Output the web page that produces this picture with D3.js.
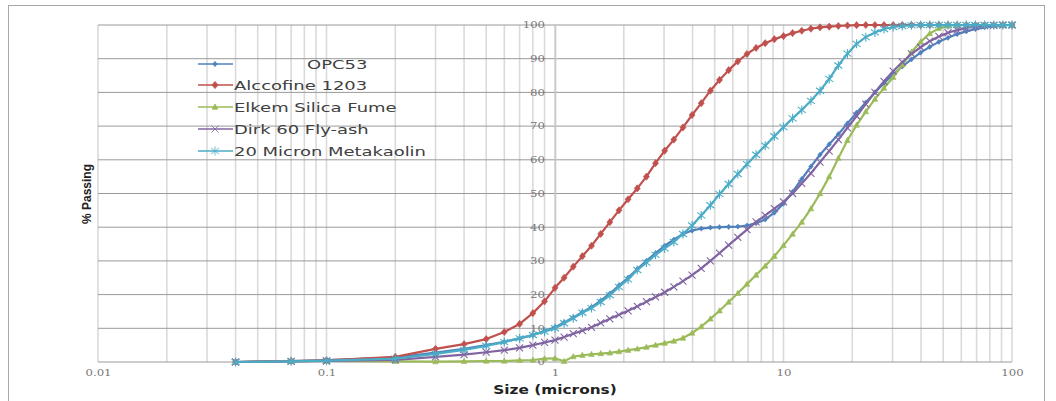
<!DOCTYPE html>
<html><head><meta charset="utf-8">
<script src="https://cdn.jsdelivr.net/npm/d3@7"></script>
<style>body{margin:0;background:#fff}svg{display:block}</style>
</head><body>
<svg id="c" width="1056" height="401"></svg>
<script>
const sizes = [0.04,0.07,0.1,0.2,0.3,0.4,0.5,0.6,0.7,0.8,0.9,
  1,1.096,1.202,1.318,1.445,1.585,1.738,1.905,2.089,2.291,2.512,2.754,3.02,3.311,3.631,3.981,4.365,4.786,5.248,5.754,6.31,6.918,7.586,8.318,9.12,
  10,10.96,12.02,13.18,14.45,15.85,17.38,19.05,20.89,22.91,25.12,27.54,30.2,33.11,36.31,39.81,43.65,47.86,52.48,57.54,63.1,69.18,75.86,83.18,91.2,100];
const seriesNames = ["OPC53","Alccofine 1203","Elkem Silica Fume","Dirk 60 Fly-ash","20 Micron Metakaolin"];
const opc53 = [0,0.3,0.6,1.3,2.8,3.9,5,6,7,8,9.2,
  10.3,11.7,13.2,14.8,16.3,18.2,20.3,22.7,25,27.6,30,32.3,34.5,36.3,38,39,39.6,39.9,40,40.1,40.2,40.5,41.2,42.3,44.3,
  47,50.5,54.3,58,61.5,64.6,67.6,70.8,74,77,80,82.7,85.3,87.7,89.8,91.8,93.5,95,96.2,97.3,98.1,98.8,99.3,99.7,99.9,100];
const alccofine = [0,0.3,0.5,1.5,3.9,5.3,6.8,8.9,11.3,14.5,18,
  22,25,28.3,31.4,34.5,38,41.5,45,48.3,51.5,55,59,62.7,66,69.6,73.3,76.8,80.5,83.7,86.6,89.2,91.4,93.2,94.6,95.8,
  96.7,97.6,98.3,98.9,99.3,99.5,99.7,99.85,99.95,100,100,100,100,100,100,100,100,100,100,100,100,100,100,100,100,100];
const elkem = [0,0.2,0.3,0.2,0.1,0.2,0.3,0.3,0.5,0.6,1.0,
  1.1,0.2,1.6,2.0,2.3,2.5,2.7,3.1,3.5,3.9,4.4,5.0,5.6,6.2,7.1,8.6,10.5,12.8,15.2,17.8,20.4,23.1,25.8,28.5,31.4,
  34.6,38,41.5,45.5,50,55,60.5,65.8,70.3,74.3,78,81.3,84.5,88.2,92,95,97.5,99,99.7,100,100,100,100,100,100,100];
const dirk = [0,0.2,0.3,0.6,1.5,2.2,2.9,3.5,4.2,5,5.8,
  6.5,7.4,8.4,9.3,10.3,11.6,12.8,14,15.2,16.5,17.9,19.3,20.7,22.3,24,25.8,27.8,30,32.3,34.7,37,39.3,41.6,43.5,45.5,
  47.5,50,53,56,59.3,62.6,66,69.5,73,76.5,80,83.3,86.3,89,91.4,93.4,95.2,96.6,97.7,98.5,99.1,99.5,99.8,99.9,100,100];
const metakaolin = [0,0.2,0.4,1.0,2.4,3.6,4.8,5.9,7,8,9,
  10,11.5,13,14.6,16,17.8,19.8,22.3,24.5,27.3,29.5,31.8,33.7,35.6,38,40.5,43.5,46.5,49.8,52.8,55.8,58.7,61.5,64.2,67,
  69.7,72.3,74.8,77.5,80.5,84,88,91.5,94.4,96.4,97.8,98.8,99.4,99.7,99.9,100,100,100,100,100,100,100,100,100,100,100];
const xTicks = [0.01,0.1,1,10,100];
const xTickLabels = ["0.01","0.1","1","10","100"];
const yTicks = [0,10,20,30,40,50,60,70,80,90,100];

const colors = ["#4F81BD","#C0504D","#9BBB59","#8064A2","#4BACC6"];
const markers = ["smalldiamond","diamond","triangle","x","star"];
const allValues = [opc53, alccofine, elkem, dirk, metakaolin];

// horizontal stretch of text, matching the reference's wide glyphs
function stretch(sel, f){
  sel.each(function(){
    const w = this.getComputedTextLength();
    this.setAttribute("textLength", (w*f).toFixed(1));
    this.setAttribute("lengthAdjust","spacingAndGlyphs");
  });
}

const svg = d3.select("#c");
svg.append("rect").attr("x",8.5).attr("y",5.5).attr("width",1036).attr("height",420)
  .attr("fill","#fff").attr("stroke","#a8a8a8");

const x = d3.scaleLog().domain([0.01,100]).range([98,1012]);
const y = d3.scaleLinear().domain([0,100]).range([362,25]);

// vertical grid (minor + major)
const vgrid = [];
[0.01,0.1,1,10].forEach(d => { for (let k=1;k<=9;k++) vgrid.push(d*k); });
vgrid.push(100);
svg.append("g").selectAll("line").data(vgrid).join("line")
  .attr("x1",d=>x(d)).attr("x2",d=>x(d)).attr("y1",y(100)).attr("y2",y(0))
  .attr("stroke","#dadada").attr("stroke-width",1.6);

// horizontal grid
svg.append("g").selectAll("line").data(yTicks.filter(v=>v>0)).join("line")
  .attr("x1",x(0.01)).attr("x2",x(100)).attr("y1",d=>y(d)).attr("y2",d=>y(d))
  .attr("stroke","#9a9a9a").attr("stroke-width",1);

// x axis line
svg.append("line").attr("x1",x(0.01)).attr("x2",x(100)).attr("y1",y(0)).attr("y2",y(0))
  .attr("stroke","#9a9a9a").attr("stroke-width",1);

// x axis labels
const xAxis = d3.axisBottom(x).tickValues(xTicks).tickSize(0).tickPadding(8)
  .tickFormat((d,i)=>xTickLabels[i]);
const gx = svg.append("g").attr("transform",`translate(0,${y(0)})`).call(xAxis);
gx.select(".domain").remove();
gx.selectAll("text").attr("font-family","DejaVu Serif").attr("font-size",9).attr("fill","#777")
  .call(stretch,1.3);

// y axis at x = 1
const yAxis = d3.axisLeft(y).tickValues(yTicks).tickSize(0).tickPadding(10);
const gy = svg.append("g").attr("transform",`translate(${x(1)},0)`).call(yAxis);
gy.select(".domain").attr("stroke","#c8c8c8").attr("stroke-width",1.5);
gy.selectAll("text").attr("font-family","DejaVu Serif").attr("font-size",9).attr("fill","#777")
  .call(stretch,1.3);

// series
const line = d3.line().x(d=>x(d[0])).y(d=>y(d[1]));
function markerPath(type){
  switch(type){
    case "smalldiamond": return "M0,-2.6L2.2,0L0,2.6L-2.2,0Z";
    case "diamond": return "M0,-3.6L3,0L0,3.6L-3,0Z";
    case "triangle": return "M0,-3L2.8,2.2L-2.8,2.2Z";
    case "x": return "M-3.5,-3.5L3.5,3.5M-3.5,3.5L3.5,-3.5";
    case "star": return "M-4,-3L4,3M-4,3L4,-3M0,-4.5L0,4.5";
  }
}
allValues.forEach((vals,i)=>{
  const pts = sizes.map((s,j)=>[s,vals[j]]);
  const g = svg.append("g");
  g.append("path").attr("d",line(pts)).attr("fill","none")
    .attr("stroke",colors[i]).attr("stroke-width",2.2).attr("stroke-linejoin","round");
  const stroked = markers[i]==="x"||markers[i]==="star";
  g.selectAll("path.m").data(pts).join("path").attr("class","m")
    .attr("transform",d=>`translate(${x(d[0])},${y(d[1])})`)
    .attr("d",markerPath(markers[i]))
    .attr("fill",stroked?"none":colors[i])
    .attr("stroke",colors[i]).attr("stroke-width",stroked?1.1:0.6);
});

// legend
const legY = [64,85,107,129,151];
const leg = svg.append("g");
seriesNames.forEach((n,i)=>{
  leg.append("line").attr("x1",198).attr("x2",233).attr("y1",legY[i]).attr("y2",legY[i])
    .attr("stroke",colors[i]).attr("stroke-width",1.5);
  leg.append("path").attr("transform",`translate(215,${legY[i]})`).attr("d",markerPath(markers[i]))
    .attr("fill",(markers[i]==="x"||markers[i]==="star")?"none":colors[i]).attr("stroke",colors[i]).attr("stroke-width",0.8);
  leg.append("text").attr("x",i===0?307:234).attr("y",legY[i]).attr("dy","0.36em")
    .attr("font-family","DejaVu Sans").attr("font-size",13).attr("fill","#404040").text(n);
});
// stretch all legend texts so "20 Micron Metakaolin" spans ~192px
const legTexts = leg.selectAll("text");
const refW = legTexts.nodes()[4].getComputedTextLength();
legTexts.call(stretch, 192/refW);

// axis titles
svg.append("text").attr("x",555).attr("y",394).attr("text-anchor","middle")
  .attr("font-family","DejaVu Sans").attr("font-weight","bold").attr("font-size",13).attr("fill","#222")
  .text("Size (microns)").call(stretch,1.18);
svg.append("text").attr("transform","translate(91,194) rotate(-90)").attr("text-anchor","middle")
  .attr("font-family","Liberation Sans Narrow, Liberation Sans").attr("font-weight","bold").attr("font-size",12).attr("fill","#222")
  .text("% Passing");
</script>
</body></html>
